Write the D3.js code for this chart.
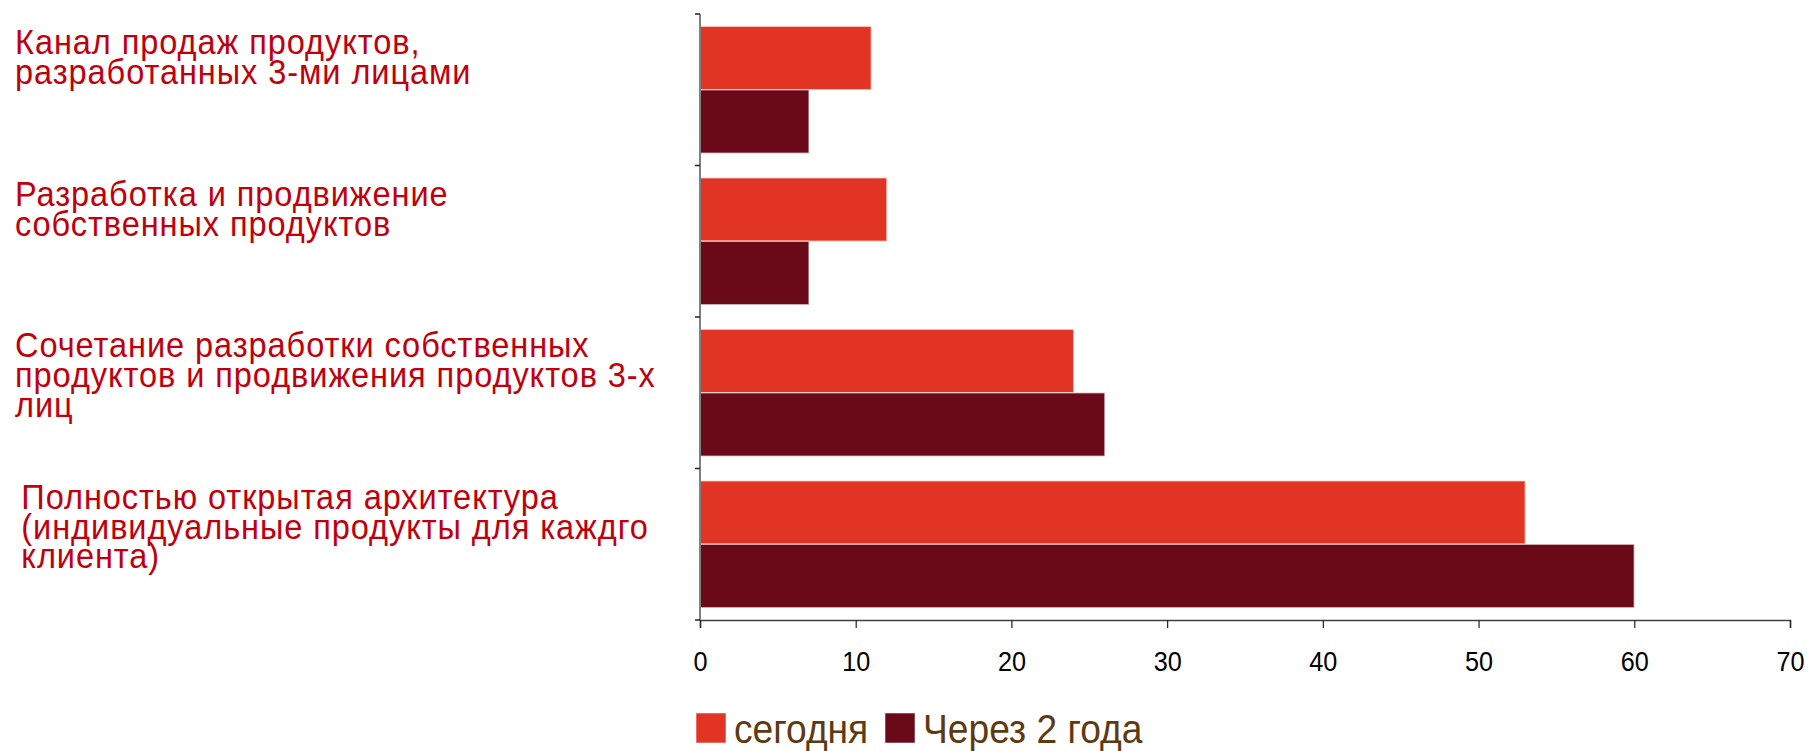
<!DOCTYPE html>
<html>
<head>
<meta charset="utf-8">
<script src="https://cdn.jsdelivr.net/npm/d3@7"></script>
<style>
  html, body { margin: 0; padding: 0; background: #fff; }
  svg { display: block; }
  text { font-family: "Liberation Sans", Arial, sans-serif; white-space: pre; }
</style>
</head>
<body>
<svg id="chart" width="1818" height="751"></svg>
<script>
// Category labels (each entry is one label, split into its lines)
const categories = [
  ["Канал продаж продуктов,", "разработанных 3-ми лицами"],
  ["Разработка и продвижение", "собственных продуктов"],
  ["Сочетание разработки собственных", "продуктов и продвижения продуктов 3-х", "лиц"],
  ["\u2006Полностью открытая архитектура", "\u2006(индивидуальные продукты для каждго", "\u2006клиента)"]
];
const seriesNames = ["сегодня", "Через 2 года"];
const todayValues = [11, 12, 24, 53];
const twoYearsValues = [7, 7, 26, 60];
const xTickValues = [0, 10, 20, 30, 40, 50, 60, 70];

const colors = ["#E23424", "#6A0918"];
const labelColor = "#C0000C";
const legendColor = "#5E3A12";

// The chart's type is set slightly condensed
const condense = 0.93;

const svg = d3.select("#chart");

const x = d3.scaleLinear().domain([0, 70]).range([700, 1790]);
const y = d3.scaleBand()
  .domain(d3.range(categories.length))
  .range([14, 620])
  .paddingInner(0.162)
  .paddingOuter(0.081);
const sub = d3.scaleBand().domain(seriesNames).range([0, y.bandwidth()]);

const rows = categories.map((c, i) => ({ i, values: [todayValues[i], twoYearsValues[i]] }));

// Bars
const groups = svg.append("g").selectAll("g")
  .data(rows).join("g")
  .attr("transform", d => `translate(0,${y(d.i)})`);

groups.selectAll("rect")
  .data(d => d.values.map((v, k) => ({ v, k })))
  .join("rect")
  .attr("x", x(0))
  .attr("y", d => sub(seriesNames[d.k]))
  .attr("width", d => x(d.v) - x(0))
  .attr("height", sub.bandwidth())
  .attr("fill", d => colors[d.k])
  .attr("stroke", "rgba(255,255,255,0.55)")
  .attr("stroke-width", 1.5);

// X axis
const xAxis = svg.append("g")
  .attr("transform", "translate(0,620)")
  .call(d3.axisBottom(x).tickValues(xTickValues).tickSize(8).tickSizeOuter(8).tickPadding(23));
xAxis.select(".domain").attr("stroke", "#404040").attr("stroke-width", 1.5);
xAxis.selectAll(".tick line").attr("stroke", "#222").attr("stroke-width", 1.2);
xAxis.selectAll(".tick text")
  .attr("fill", "#000")
  .attr("transform", "scale(0.9,1)")
  .style("font-size", "28px")
  .style("font-family", "'Liberation Sans', Arial, sans-serif");

// Y axis line and category separators
svg.append("line")
  .attr("x1", x(0)).attr("x2", x(0))
  .attr("y1", y.range()[0]).attr("y2", y.range()[1])
  .attr("stroke", "#808080").attr("stroke-width", 2);
const boundaries = d3.range(categories.length + 1).map(i => y.range()[0] + i * y.step());
svg.append("g").selectAll("line")
  .data(boundaries).join("line")
  .attr("x1", x(0) - 5).attr("x2", x(0))
  .attr("y1", d => d).attr("y2", d => d)
  .attr("stroke", "#222").attr("stroke-width", 1.5);

// Category labels
const lineGap = 30;
svg.append("g").selectAll("text")
  .data(categories).join("text")
  .attr("transform", (d, i) =>
    `translate(15,${y(i) - y.step() * y.paddingInner() / 2 + 40}) scale(${condense},1)`)
  .attr("fill", labelColor)
  .style("font-size", "35px")
  .style("letter-spacing", "1px")
  .each(function (lines) {
    const t = d3.select(this);
    lines.forEach((ln, j) => {
      t.append("tspan").attr("x", 0).attr("dy", j === 0 ? 0 : lineGap).text(ln);
    });
  });

// Legend
const legendItems = [
  { name: seriesNames[0], color: colors[0], x: 696 },
  { name: seriesNames[1], color: colors[1], x: 885 }
];
const legend = svg.append("g");
legend.selectAll("rect")
  .data(legendItems).join("rect")
  .attr("x", d => d.x).attr("y", 713)
  .attr("width", 30).attr("height", 30)
  .attr("fill", d => d.color)
  .attr("stroke", "rgba(255,255,255,0.55)");
legend.selectAll("text")
  .data(legendItems).join("text")
  .attr("transform", d => `translate(${d.x + 38},743) scale(${condense},1)`)
  .attr("fill", legendColor)
  .style("font-size", "40px")
  .text(d => d.name);
</script>
</body>
</html>
